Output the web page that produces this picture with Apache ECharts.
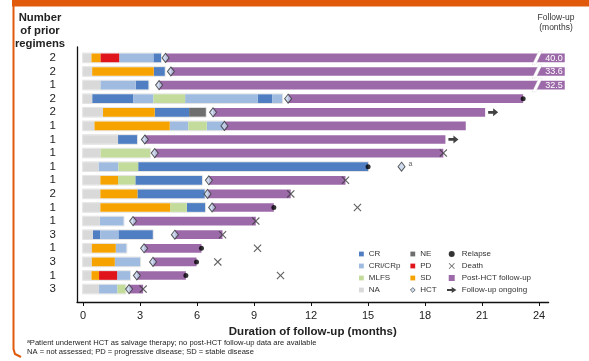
<!DOCTYPE html>
<html lang="en">
<head>
<meta charset="UTF-8">
<title>Swimmer plot - follow-up after HCT</title>
<script src="https://cdn.jsdelivr.net/npm/echarts@6/dist/echarts.min.js"></script>
<style>
  html, body { margin: 0; padding: 0; background: #fff; }
  #chart { width: 589px; height: 361px; }
</style>
</head>
<body>
<div id="chart"></div>
<script>
  // number of prior regimens, one per patient, top to bottom
  const regimens = [2, 2, 1, 2, 2, 1, 1, 1, 1, 1, 2, 1, 1, 3, 1, 3, 1, 3];

  // response before HCT: [state, end month]; each piece starts where the previous ended
  const responses = [
    [['NA', 0.44], ['SD', 0.91], ['PD', 1.9], ['CRi/CRp', 3.7], ['CR', 4.1]],
    [['NA', 0.48], ['SD', 3.72], ['CR', 4.3]],
    [['NA', 0.91], ['CRi/CRp', 2.77], ['CR', 3.44]],
    [['NA', 0.48], ['CR', 2.65], ['CRi/CRp', 3.7], ['MLFS', 5.37], ['CRi/CRp', 9.2], ['CR', 9.95], ['CRi/CRp', 10.48]],
    [['NA', 1.05], ['SD', 3.77], ['CR', 5.58], ['NE', 6.46]],
    [['NA', 0.6], ['SD', 4.56], ['CRi/CRp', 5.54], ['MLFS', 6.51], ['CRi/CRp', 7.44]],
    [['NA', 1.84], ['CR', 2.84]],
    [['NA', 0.91], ['MLFS', 3.53]],
    [['NA', 0.81], ['CRi/CRp', 1.86], ['MLFS', 2.9], ['CR', 15.0]],
    [['NA', 0.91], ['SD', 1.84], ['MLFS', 2.75], ['CR', 6.26]],
    [['NA', 0.91], ['SD', 2.86], ['CR', 6.4]],
    [['NA', 0.91], ['SD', 4.58], ['MLFS', 5.46], ['CR', 6.42]],
    [['NA', 0.88], ['CRi/CRp', 2.13]],
    [['NA', 0.51], ['CR', 0.9], ['CRi/CRp', 1.86], ['CR', 3.67]],
    [['NA', 0.46], ['SD', 1.72], ['CRi/CRp', 2.28]],
    [['NA', 0.46], ['SD', 1.67], ['CRi/CRp', 3.0]],
    [['NA', 0.44], ['SD', 0.84], ['PD', 1.79], ['CRi/CRp', 2.47]],
    [['NA', 0.84], ['CRi/CRp', 1.81], ['MLFS', 2.23]]
  ];

  const hctMonth = [4.34, 4.62, 4.0, 10.79, 6.84, 7.44, 3.25, 3.77, 16.76, 6.62, 6.55, 6.79, 2.63, 4.83, 3.21, 3.68, 2.83, 2.42];
  const followUpEnd = [40.0, 33.6, 32.5, 23.16, 21.16, 20.14, 19.07, 18.96, null, 13.81, 10.93, 10.04, 9.09, 7.34, 6.23, 5.97, 5.41, 3.16];
  const relapseMonth = [null, null, null, 23.16, null, null, null, null, 15.0, null, null, 10.04, null, null, 6.23, 5.97, 5.41, null];
  const deathMonth = [null, null, null, null, null, null, null, 18.96, null, 13.81, 10.93, 14.44, 9.09, 7.34, 9.18, 7.09, 10.39, 3.16];
  const ongoing = [1, 1, 1, 0, 1, 0, 1, 0, 0, 0, 0, 0, 0, 0, 0, 0, 0, 0];
  const salvageRow = 8; // HCT as salvage therapy (footnote a)

  const xTicks = [0, 3, 6, 9, 12, 15, 18, 21, 24];

  const stateColors = {
    'CR': '#4f7fc2',
    'CRi/CRp': '#9fbbe0',
    'MLFS': '#c3dc9b',
    'NA': '#d9d9d9',
    'NE': '#6e6e6e',
    'PD': '#e0141b',
    'SD': '#f6a300'
  };
  const purple = '#9c6aa9';

  // bars longer than the axis get cut: break slash, then bar ends at CUT_END
  const BREAK_AT = 23.9;
  const CUT_END = 25.35;
  const displayEnd = v => (v > 24.5 ? CUT_END : v);

  const rows = regimens.map((_, i) => i);

  // one custom series per response state
  const segData = {};
  Object.keys(stateColors).forEach(k => segData[k] = []);
  responses.forEach((segs, row) => {
    let start = 0;
    segs.forEach(([state, end]) => {
      segData[state].push([row, start, end]);
      start = end;
    });
  });

  function barHeight(api) {
    return api.size([0, 1])[1] * 0.64;
  }

  function segRender(params, api) {
    const row = api.value(0);
    const s = api.coord([api.value(1), row]);
    const e = api.coord([api.value(2), row]);
    const h = barHeight(api);
    return {
      type: 'rect',
      shape: {x: s[0], y: s[1] - h / 2, width: e[0] - s[0], height: h},
      style: {fill: api.visual('color')}
    };
  }

  // faint outline round each response bar
  const frameData = responses.map((segs, row) => [row, 0, segs[segs.length - 1][1]]);
  function frameRender(params, api) {
    const row = api.value(0);
    const s = api.coord([api.value(1), row]);
    const e = api.coord([api.value(2), row]);
    const h = barHeight(api);
    return {
      type: 'rect',
      shape: {x: s[0] - 0.5, y: s[1] - h / 2 - 0.5, width: e[0] - s[0] + 1, height: h + 1},
      style: {fill: 'none', stroke: '#e4e4e4', lineWidth: 1}
    };
  }

  const postData = [];
  followUpEnd.forEach((v, row) => {
    if (v != null) postData.push([row, hctMonth[row], displayEnd(v), v]);
  });

  function postRender(params, api) {
    const row = api.value(0);
    const raw = api.value(3);
    const s = api.coord([api.value(1), row]);
    const e = api.coord([api.value(2), row]);
    const h = barHeight(api);
    const children = [{
      type: 'rect',
      shape: {x: s[0], y: s[1] - h / 2, width: e[0] - s[0], height: h},
      style: {fill: purple}
    }];
    if (raw > 24.5) {
      const b = api.coord([BREAK_AT, row]);
      const hh = h / 2 + 2.5;
      children.push({
        type: 'polygon',
        shape: {points: [[b[0] - 5, s[1] + hh], [b[0] - 1.5, s[1] + hh], [b[0] + 5, s[1] - hh], [b[0] + 1.5, s[1] - hh]]},
        style: {fill: '#fff', stroke: '#d0d0d0', lineWidth: 0.6, lineDash: [1, 1]}
      });
      children.push({
        type: 'text',
        style: {
          x: e[0] - 2, y: s[1] + 0.5, text: raw.toFixed(1),
          fill: '#fff', font: '9px "Liberation Sans", Arial, sans-serif',
          align: 'right', verticalAlign: 'middle'
        }
      });
    }
    return {type: 'group', children};
  }

  const hctData = hctMonth.map((m, row) => ({
    value: [m, row],
    label: row === salvageRow ? {
      show: true, formatter: 'a', position: 'right', distance: 3, offset: [0, -3],
      fontSize: 7, color: '#333'
    } : {show: false}
  }));
  const relapseData = [];
  relapseMonth.forEach((m, row) => { if (m != null) relapseData.push([m, row]); });
  const deathData = [];
  deathMonth.forEach((m, row) => { if (m != null) deathData.push([m, row]); });
  const ongoingData = [];
  ongoing.forEach((o, row) => { if (o) ongoingData.push([displayEnd(followUpEnd[row]), row]); });

  const crossPath = 'path://M0,1 L1,0 L5,4 L9,0 L10,1 L6,5 L10,9 L9,10 L5,6 L1,10 L0,9 L4,5 Z';
  const arrowPath = 'path://M0,2.3 L5.5,2.3 L5.5,0 L11,3.5 L5.5,7 L5.5,4.7 L0,4.7 Z';
  const squarePath = 'path://M0,0 L10,0 L10,10 L0,10 Z';

  const font = '"Liberation Sans", Arial, Helvetica, sans-serif';

  const series = [{
    type: 'custom', name: 'frame', data: frameData, renderItem: frameRender,
    encode: {x: [1, 2], y: 0}, silent: true, z: 1
  }];
  Object.keys(stateColors).forEach(k => {
    series.push({
      type: 'custom', name: k, data: segData[k], renderItem: segRender,
      encode: {x: [1, 2], y: 0}, itemStyle: {color: stateColors[k]}, z: 2
    });
  });
  series.push({
    type: 'custom', name: 'Post-HCT follow-up', data: postData, renderItem: postRender,
    encode: {x: [1, 2], y: 0}, itemStyle: {color: purple}, z: 2
  });
  series.push({
    type: 'scatter', name: 'HCT', data: hctData, symbol: 'diamond', symbolSize: [7, 9],
    itemStyle: {color: '#c4d5ec', borderColor: '#333', borderWidth: 1}, z: 5
  });
  series.push({
    type: 'scatter', name: 'Relapse', data: relapseData, symbol: 'circle', symbolSize: 5,
    itemStyle: {color: '#000'}, z: 5
  });
  series.push({
    type: 'scatter', name: 'Death', data: deathData, symbol: crossPath, symbolSize: 8,
    itemStyle: {color: '#3a3a3a'}, z: 5
  });
  series.push({
    type: 'scatter', name: 'Follow-up ongoing', data: ongoingData, symbol: arrowPath,
    symbolSize: [10, 8], symbolOffset: [8, 0], itemStyle: {color: '#111'}, z: 5
  });

  const legendBase = {
    orient: 'vertical', top: 244, itemWidth: 4.8, itemHeight: 4.8, itemGap: 2,
    textStyle: {fontSize: 8, color: '#333', fontFamily: font, lineHeight: 10}
  };

  const option = {
    animation: false,
    textStyle: {fontFamily: font},
    grid: {left: 77, right: 40.4, top: 47, bottom: 59},
    xAxis: {
      type: 'value', min: -0.32, max: 24.5,
      name: 'Duration of follow-up (months)', nameLocation: 'middle', nameGap: 23,
      nameTextStyle: {fontSize: 11.5, fontWeight: 'bold', color: '#222'},
      axisLine: {onZero: false, lineStyle: {color: '#111', width: 1.3}},
      axisTick: {show: true, length: 4, customValues: xTicks, lineStyle: {color: '#111'}},
      axisLabel: {customValues: xTicks, fontSize: 11, color: '#222', margin: 8},
      splitLine: {show: false}
    },
    yAxis: {
      type: 'value', inverse: true, min: -0.8, max: 17.95,
      axisLine: {show: true, onZero: false, lineStyle: {color: '#111', width: 1.3}},
      axisTick: {show: false},
      axisLabel: {
        customValues: rows, fontSize: 11.5, color: '#222', margin: 21,
        formatter: v => regimens[v]
      },
      splitLine: {show: false}
    },
    legend: [
      Object.assign({}, legendBase, {left: 354, data: [
        {name: 'CR', icon: 'rect'}, {name: 'CRi/CRp', icon: 'rect'},
        {name: 'MLFS', icon: 'rect'}, {name: 'NA', icon: 'rect'}]}),
      Object.assign({}, legendBase, {left: 405, data: [
        {name: 'NE', icon: 'rect'}, {name: 'PD', icon: 'rect'},
        {name: 'SD', icon: 'rect'}, {name: 'HCT', itemStyle: {borderWidth: 0.8}}]}),
      Object.assign({}, legendBase, {left: 442, itemWidth: 10, itemHeight: 6, data: [
        {name: 'Relapse', icon: 'circle'}, {name: 'Death'},
        {name: 'Post-HCT follow-up', icon: squarePath}, {name: 'Follow-up ongoing'}]})
    ],
    graphic: [
      // orange frame of the poster panel
      {type: 'rect', left: 12, top: 0, shape: {width: 577, height: 6.5}, style: {fill: '#e15a0c'}, silent: true},
      {type: 'polyline', shape: {points: [[13.5, 0], [13.5, 349], [15, 354], [21, 357]]},
        style: {stroke: '#e15a0c', lineWidth: 2, fill: 'none'}, silent: true},
      {type: 'text', x: 40, y: 11, style: {
        text: 'Number\nof prior\nregimens', font: 'bold 11.3px ' + font, fill: '#222',
        align: 'center', lineHeight: 13.2}},
      {type: 'text', x: 556, y: 12, style: {
        text: 'Follow-up\n(months)', font: '8.5px ' + font, fill: '#333',
        align: 'center', lineHeight: 10.5}},
      {type: 'text', x: 27, y: 338, style: {
        text: 'ᵃPatient underwent HCT as salvage therapy; no post-HCT follow-up data are available\nNA = not assessed; PD = progressive disease; SD = stable disease',
        font: '7.6px ' + font, fill: '#222', lineHeight: 9.5}}
    ],
    series
  };

  const chart = echarts.init(document.getElementById('chart'));
  chart.setOption(option);
</script>
</body>
</html>
